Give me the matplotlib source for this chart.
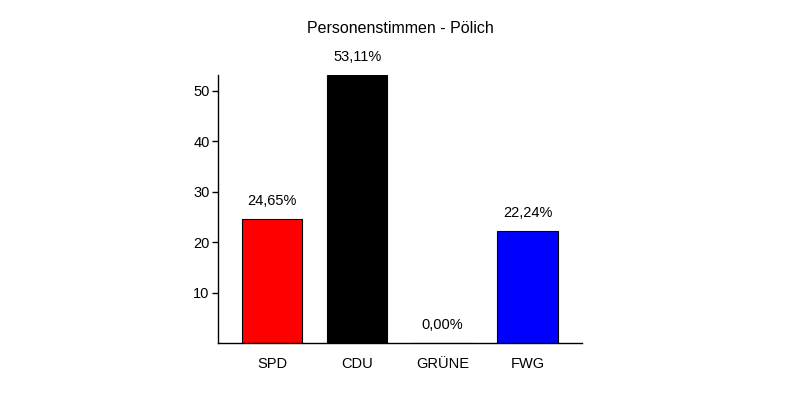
import matplotlib
matplotlib.use("Agg")
import matplotlib.pyplot as plt

parties = ["SPD", "CDU", "GRÜNE", "FWG"]
shares = [24.65, 53.11, 0.00, 22.24]
colors = ["#ff0000", "#000000", "#00a000", "#0000ff"]
yticks = [10, 20, 30, 40, 50]

plt.rcParams['font.family'] = ['Liberation Sans', 'DejaVu Sans']

fig = plt.figure(figsize=(8, 4), dpi=100)
ax = fig.add_axes([0.2725, 0.1425, 0.455, 0.67])

x = list(range(len(parties)))
ax.bar(x, shares, width=0.71, color=colors, edgecolor="black", linewidth=0.8)

for xi, v in zip(x, shares):
    label = f"{v:.2f}%".replace(".", ",")
    ax.annotate(label, (xi, v), xytext=(0, 11), textcoords="offset pixels",
                ha="center", va="bottom", fontsize=10.5)

ax.set_xlim(-0.635, 3.64)
ax.set_ylim(0, max(shares))
ax.set_xticks(x)
ax.set_xticklabels(parties, fontsize=10.5)
ax.set_yticks(yticks)
ax.tick_params(axis="x", length=0, pad=10)
ax.tick_params(axis="y", length=4, width=1, pad=2, labelsize=10.5)

for side in ["top", "right"]:
    ax.spines[side].set_visible(False)
ax.spines["left"].set_linewidth(1)
ax.spines["bottom"].set_linewidth(1)

fig.text(0.5, 0.928, "Personenstimmen - Pölich", ha="center", va="center", fontsize=11.5)

fig.savefig("out.png", dpi=100)
